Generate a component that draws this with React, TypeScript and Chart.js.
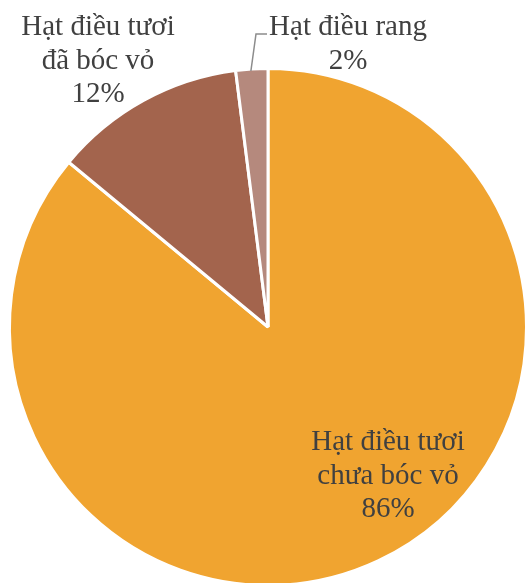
import React, { useEffect, useRef } from "react";
import { Chart, registerables } from "chart.js";

Chart.register(...registerables);

const categories = ["Hạt điều tươi chưa bóc vỏ", "Hạt điều tươi đã bóc vỏ", "Hạt điều rang"];
const shares = [86, 12, 2];
const colors = ["#F0A430", "#A3644D", "#B5897D"];
const labelLines = [
  ["Hạt điều tươi", "chưa bóc vỏ", "86%"],
  ["Hạt điều tươi", "đã bóc vỏ", "12%"],
  ["Hạt điều rang", "2%"],
];

export default function App() {
  const ref = useRef<HTMLCanvasElement | null>(null);
  useEffect(() => {
    document.body.style.margin = "0";
    const canvas = ref.current!;
    const labelPlugin = {
      id: "pieLabels",
      afterDatasetsDraw(chart: any) {
        const ctx = chart.ctx;
        ctx.save();
        ctx.font = "29px 'Liberation Serif', 'Times New Roman', serif";
        ctx.fillStyle = "#404040";
        ctx.textAlign = "center";
        ctx.textBaseline = "alphabetic";
        const pos = [
          { x: 388, y: 450 },
          { x: 98, y: 35 },
          { x: 348, y: 35 },
        ];
        labelLines.forEach((lines, i) => {
          lines.forEach((t, j) => ctx.fillText(t, pos[i].x, pos[i].y + j * 33.5));
        });
        // leader line for small slice
        const arc = chart.getDatasetMeta(0).data[2];
        const mid = (arc.startAngle + arc.endAngle) / 2;
        const r = arc.outerRadius;
        const sx = arc.x + Math.cos(mid) * (r - 2);
        const sy = arc.y + Math.sin(mid) * (r - 2);
        ctx.strokeStyle = "#8C8C8C";
        ctx.lineWidth = 1.5;
        ctx.beginPath();
        ctx.moveTo(sx - 1, sy);
        ctx.lineTo(256, 34);
        ctx.lineTo(267, 34);
        ctx.stroke();
        ctx.restore();
      },
    };
    const chart = new Chart(canvas, {
      type: "pie",
      data: {
        labels: categories,
        datasets: [
          {
            data: shares,
            backgroundColor: colors,
            borderColor: "#FFFFFF",
            borderWidth: 3,
          },
        ],
      },
      options: {
        responsive: false,
        animation: false,
        layout: { padding: { left: 8, right: 0, top: 67, bottom: 13 } },
        plugins: { legend: { display: false }, tooltip: { enabled: false } },
      },
      plugins: [labelPlugin],
    });
    return () => chart.destroy();
  }, []);
  return (
    <div style={{ position: "absolute", left: 0, top: 0, width: 528, height: 583, overflow: "hidden", background: "#fff" }}>
      <canvas ref={ref} width={528} height={600} style={{ width: 528, height: 600, display: "block" }} />
    </div>
  );
}
